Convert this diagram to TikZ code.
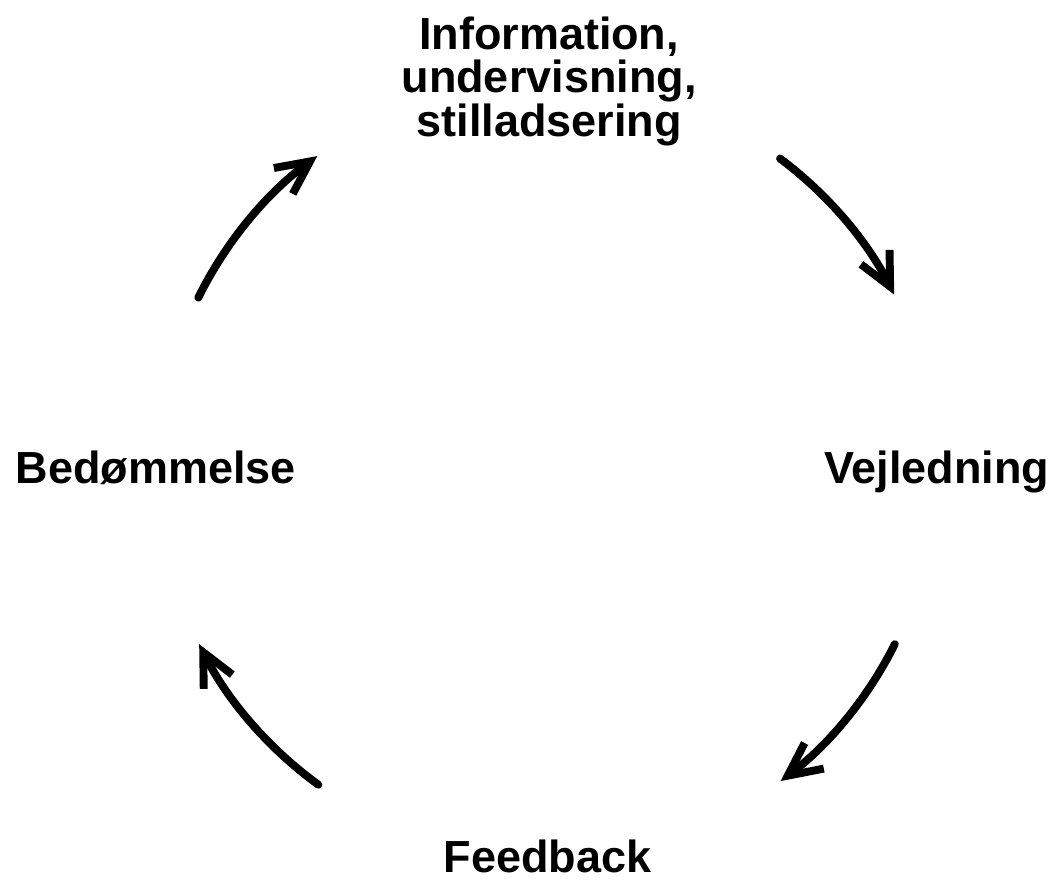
\documentclass[tikz,border=0pt]{standalone}
\usepackage{fontspec}
\setmainfont{Liberation Sans}
\usetikzlibrary{arrows.meta,calc}
\begin{document}
\begin{tikzpicture}[
  phase/.style={font=\bfseries\fontsize{25.6}{24.6}\selectfont, inner sep=0pt, align=center},
  cyclearrow/.style={line width=4.5pt, line cap=round, line join=round,
    -{Straight Barb[length=6.6mm, width=6.4mm]}}
  ]
  \useasboundingbox (0,0) rectangle (21.14,-17.58);
  % the four phases
  \node[phase, anchor=base] (info) at (10.98,-2.72) {Information,\\undervisning,\\stilladsering};
  \node[phase, anchor=base] (vejl) at (18.73,-9.66) {Vejledning};
  \node[phase, anchor=base] (feed) at (10.95,-17.44) {Feedback};
  \node[phase, anchor=base] (bedo) at (3.12,-9.66) {Bedømmelse};
  % arrows on a circle round the middle
  \coordinate (c) at (10.94,-9.40);
  \coordinate (a1) at ($(c)+(153.7:7.78)$);
  \coordinate (a2) at ($(c)+(53.2:7.78)$);
  \coordinate (a3) at ($(c)+(-26.6:7.78)$);
  \coordinate (a4) at ($(c)+(-126.0:7.78)$);
  \draw[cyclearrow] (a1) arc[start angle=153.7, end angle=126.2, radius=7.78];
  \draw[cyclearrow] (a2) arc[start angle=53.2, end angle=26.8, radius=7.78];
  \draw[cyclearrow] (a3) arc[start angle=-26.6, end angle=-53.1, radius=7.78];
  \draw[cyclearrow] (a4) arc[start angle=-126.0, end angle=-153.4, radius=7.78];
\end{tikzpicture}
\end{document}
